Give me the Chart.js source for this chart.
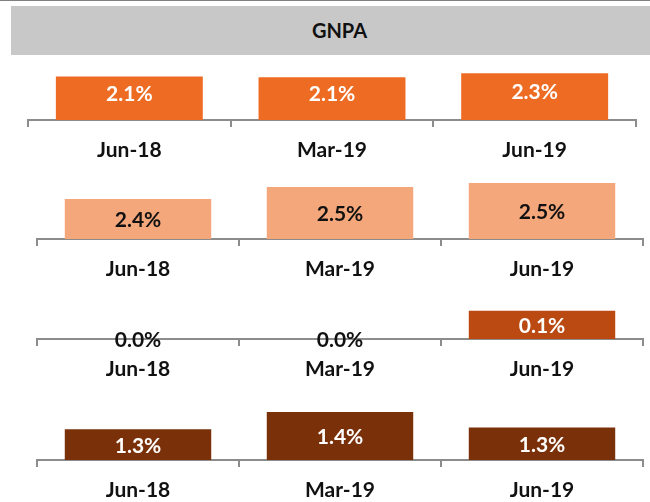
<!DOCTYPE html>
<html>
<head>
<meta charset="utf-8">
<script src="https://cdn.jsdelivr.net/npm/chart.js@4"></script>
<style>
html, body { margin:0; padding:0; background:#fff; width:650px; height:502px; overflow:hidden; }
body { position:relative; font-family: Lato, "Open Sans", sans-serif; }
#topline { position:absolute; left:0; top:0; width:650px; height:1px; background:#808080; }
#title { position:absolute; left:11px; top:6px; width:621px; height:49px; padding-left:18px; background:#c8c8c8;
  line-height:49px; text-align:center; font-weight:bold; font-size:20px; color:#111; }
canvas { position:absolute; left:0; }
</style>
</head>
<body>
<div id="topline"></div>
<div id="title"></div>
<canvas id="c1" width="650" height="110" style="top:60px"></canvas>
<canvas id="c2" width="650" height="110" style="top:179px"></canvas>
<canvas id="c3" width="650" height="110" style="top:279px"></canvas>
<canvas id="c4" width="650" height="110" style="top:400px"></canvas>
<script>
const titleText = 'GNPA';
const categories = ['Jun-18', 'Mar-19', 'Jun-19'];
const panel1Values = [2.13, 2.10, 2.29];
const panel2Values = [2.40, 2.49, 2.52];
const panel3Values = [0.00, 0.00, 0.08];
const panel4Values = [1.30, 1.40, 1.31];

document.getElementById('title').textContent = titleText;

const panels = [
  { id:'c1', values:panel1Values, color:'#ED6B22', labelColor:'#ffffff', min:0,    max:2.94, left:28, right:14, shift:-4.5 },
  { id:'c2', values:panel2Values, color:'#F4A77A', labelColor:'#111111', min:2.1,  max:2.55, left:37, right:7,  shift:1.5 },
  { id:'c3', values:panel3Values, color:'#BA4A12', labelColor:'#ffffff', min:0,    max:0.17, left:37, right:7,  shift:1.5 },
  { id:'c4', values:panel4Values, color:'#7A310A', labelColor:'#ffffff', min:1.12, max:1.47, left:37, right:7,  shift:1.5 }
];

const valueLabels = {
  id: 'valueLabels',
  afterDatasetsDraw(chart, args, opts) {
    const ctx = chart.ctx;
    const meta = chart.getDatasetMeta(0);
    const data = chart.data.datasets[0].data;
    const bottom = chart.chartArea.bottom;
    ctx.save();
    ctx.font = 'bold 21px Lato, "Open Sans", sans-serif';
    ctx.textAlign = 'center';
    ctx.textBaseline = 'middle';
    meta.data.forEach((bar, i) => {
      const v = data[i];
      const p = bar.getProps(['x', 'y', 'base'], true);
      const base = Math.min(p.base, bottom);
      ctx.fillStyle = v > 0.05 ? opts.color : '#111111';
      ctx.fillText(v.toFixed(1) + '%', p.x, (p.y + base) / 2 + opts.shift);
    });
    ctx.restore();
  }
};

panels.forEach(p => {
  new Chart(document.getElementById(p.id), {
    type: 'bar',
    data: {
      labels: categories,
      datasets: [{
        data: p.values,
        backgroundColor: p.color,
        borderWidth: 0,
        barPercentage: 0.725,
        categoryPercentage: 1
      }]
    },
    options: {
      responsive: false,
      animation: false,
      devicePixelRatio: 1,
      layout: { padding: { left: p.left, right: p.right, top: 0, bottom: 0 } },
      plugins: {
        legend: { display: false },
        tooltip: { enabled: false },
        title: { display: false },
        valueLabels: { color: p.labelColor, shift: p.shift }
      },
      scales: {
        x: {
          offset: true,
          grid: { display: true, offset: true, drawOnChartArea: false, drawTicks: true, tickLength: 7, color: '#8c8c8c', lineWidth: 2 },
          border: { display: true, color: '#8c8c8c', width: 2 },
          ticks: { color: '#111111', font: { family: 'Lato', size: 21, weight: 'bold' }, padding: 11, maxRotation: 0, autoSkip: false },
          afterFit(scale) { scale.height = 50; }
        },
        y: { display: false, min: p.min, max: p.max }
      }
    },
    plugins: [valueLabels]
  });
});
</script>
</body>
</html>
